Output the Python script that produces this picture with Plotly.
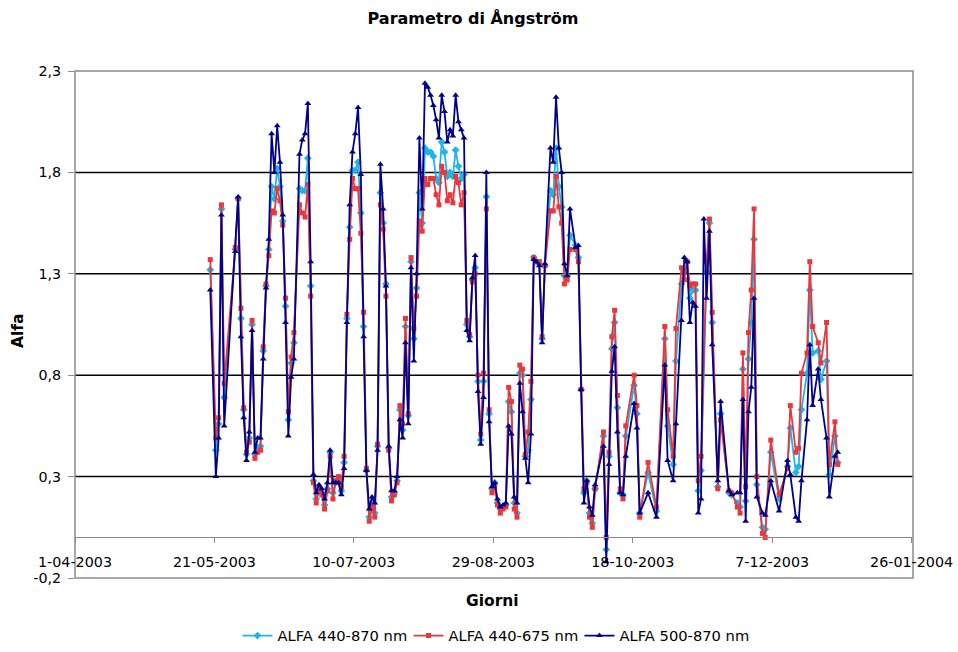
import pandas as pd
import plotly.graph_objects as go

# Measurement days (one value per day, three Ångström exponents)
DATES = [
    "2003-05-19", "2003-05-21", "2003-05-22", "2003-05-23", "2003-05-24",
    "2003-05-28", "2003-05-29", "2003-05-30", "2003-05-31", "2003-06-01",
    "2003-06-02", "2003-06-03", "2003-06-04", "2003-06-05", "2003-06-06",
    "2003-06-07", "2003-06-08", "2003-06-09", "2003-06-10", "2003-06-11",
    "2003-06-12", "2003-06-13", "2003-06-14", "2003-06-15", "2003-06-16",
    "2003-06-17", "2003-06-18", "2003-06-20", "2003-06-21", "2003-06-22",
    "2003-06-23", "2003-06-24", "2003-06-25", "2003-06-26", "2003-06-27",
    "2003-06-28", "2003-06-29", "2003-06-30", "2003-07-01", "2003-07-02",
    "2003-07-03", "2003-07-04", "2003-07-05", "2003-07-06", "2003-07-07",
    "2003-07-08", "2003-07-09", "2003-07-10", "2003-07-11", "2003-07-12",
    "2003-07-13", "2003-07-14", "2003-07-15", "2003-07-16", "2003-07-17",
    "2003-07-18", "2003-07-19", "2003-07-20", "2003-07-21", "2003-07-22",
    "2003-07-23", "2003-07-24", "2003-07-25", "2003-07-26", "2003-07-27",
    "2003-07-28", "2003-07-29", "2003-07-30", "2003-07-31", "2003-08-01",
    "2003-08-02", "2003-08-03", "2003-08-04", "2003-08-05", "2003-08-06",
    "2003-08-07", "2003-08-08", "2003-08-09", "2003-08-10", "2003-08-11",
    "2003-08-12", "2003-08-13", "2003-08-14", "2003-08-15", "2003-08-16",
    "2003-08-17", "2003-08-18", "2003-08-19", "2003-08-20", "2003-08-21",
    "2003-08-22", "2003-08-23", "2003-08-24", "2003-08-25", "2003-08-26",
    "2003-08-27", "2003-08-28", "2003-08-29", "2003-08-30", "2003-08-31",
    "2003-09-01", "2003-09-02", "2003-09-03", "2003-09-04", "2003-09-05",
    "2003-09-06", "2003-09-07", "2003-09-08", "2003-09-09", "2003-09-10",
    "2003-09-11", "2003-09-12", "2003-09-13", "2003-09-14", "2003-09-15",
    "2003-09-16", "2003-09-18", "2003-09-19", "2003-09-20", "2003-09-21",
    "2003-09-22", "2003-09-23", "2003-09-24", "2003-09-25", "2003-09-27",
    "2003-09-28", "2003-09-29", "2003-09-30", "2003-10-01", "2003-10-02",
    "2003-10-03", "2003-10-04", "2003-10-07", "2003-10-08", "2003-10-09",
    "2003-10-10", "2003-10-11", "2003-10-12", "2003-10-13", "2003-10-14",
    "2003-10-15", "2003-10-18", "2003-10-19", "2003-10-20", "2003-10-23",
    "2003-10-26", "2003-10-29", "2003-10-30", "2003-11-01", "2003-11-02",
    "2003-11-04", "2003-11-05", "2003-11-06", "2003-11-07", "2003-11-08",
    "2003-11-09", "2003-11-10", "2003-11-11", "2003-11-12", "2003-11-13",
    "2003-11-14", "2003-11-15", "2003-11-17", "2003-11-18", "2003-11-21",
    "2003-11-22", "2003-11-24", "2003-11-25", "2003-11-26", "2003-11-27",
    "2003-11-28", "2003-11-29", "2003-11-30", "2003-12-01", "2003-12-03",
    "2003-12-04", "2003-12-06", "2003-12-09", "2003-12-12", "2003-12-13",
    "2003-12-15", "2003-12-16", "2003-12-17", "2003-12-19", "2003-12-20",
    "2003-12-21", "2003-12-23", "2003-12-24", "2003-12-26", "2003-12-27",
    "2003-12-29", "2003-12-30",
]

ALFA_440_870 = [
    1.32, 0.43, 0.56, 1.62, 0.69, 1.42, 1.67, 1.08, 0.63, 0.41,
    0.49, 1.05, 0.41, 0.44, 0.45, 0.92, 1.24, 1.42, 1.73, 1.67,
    1.82, 1.73, 1.56, 1.14, 0.58, 0.86, 0.96, 1.72, 1.71, 1.71,
    1.87, 1.24, 0.28, 0.19, 0.24, 0.22, 0.16, 0.24, 0.42, 0.22,
    0.27, 0.28, 0.23, 0.37, 1.08, 1.53, 1.81, 1.81, 1.85, 1.60,
    1.04, 0.33, 0.10, 0.17, 0.12, 0.45, 1.70, 1.55, 1.25, 0.44,
    0.20, 0.22, 0.28, 0.63, 0.53, 1.04, 0.60, 1.36, 0.98, 1.23,
    1.70, 1.55, 1.92, 1.90, 1.90, 1.88, 1.77, 1.75, 1.95, 1.90,
    1.78, 1.80, 1.78, 1.91, 1.83, 1.77, 1.79, 1.05, 0.99, 1.27,
    1.33, 0.77, 0.48, 0.77, 1.68, 0.61, 0.24, 0.27, 0.17, 0.14,
    0.15, 0.16, 0.67, 0.62, 0.17, 0.12, 0.81, 0.80, 0.40, 0.43,
    0.68, 1.38, 1.36, 1.35, 0.98, 1.34, 1.71, 1.69, 1.92, 1.73,
    1.63, 1.29, 1.29, 1.49, 1.44, 1.38, 0.73, 0.22, 0.28, 0.12,
    0.07, 0.24, 0.50, -0.06, 0.40, 0.93, 1.06, 0.64, 0.22, 0.21,
    0.50, 0.75, 0.61, 0.12, 0.32, 0.13, 0.98, 0.55, 0.36, 0.87,
    1.25, 1.31, 1.36, 1.18, 1.22, 1.22, 0.23, 0.33, None, 1.31,
    1.55, 1.06, 0.25, 0.61, 0.22, 0.21, 0.17, 0.15, 0.83, 0.18,
    0.88, 1.06, 1.47, 0.26, 0.05, 0.04, 0.42, 0.19, 0.35, 0.54,
    0.32, 0.35, 0.63, 0.81, 1.22, 0.91, 0.92, 0.78, 0.87, 0.31,
    0.50, 0.37,
]

ALFA_440_675 = [
    1.37, 0.49, 0.59, 1.64, 0.76, 1.43, 1.67, 1.13, 0.64, 0.42,
    0.47, 1.07, 0.39, 0.42, 0.43, 0.94, 1.25, 1.39, 1.61, 1.60,
    1.72, 1.66, 1.54, 1.18, 0.62, 0.89, 1.01, 1.64, 1.60, 1.58,
    1.74, 1.19, 0.27, 0.17, 0.24, 0.21, 0.14, 0.23, 0.40, 0.19,
    0.28, 0.30, 0.25, 0.40, 1.10, 1.47, 1.77, 1.72, 1.72, 1.50,
    1.11, 0.34, 0.08, 0.15, 0.10, 0.46, 1.64, 1.52, 1.19, 0.43,
    0.18, 0.21, 0.27, 0.65, 0.56, 1.08, 0.61, 1.38, 1.03, 1.19,
    1.56, 1.51, 1.77, 1.74, 1.77, 1.77, 1.69, 1.64, 1.83, 1.80,
    1.66, 1.69, 1.65, 1.78, 1.75, 1.64, 1.70, 1.07, 1.00, 1.26,
    1.30, 0.80, 0.51, 0.81, 1.62, 0.63, 0.22, 0.25, 0.16, 0.12,
    0.14, 0.15, 0.74, 0.67, 0.14, 0.10, 0.85, 0.83, 0.41, 0.52,
    0.77, 1.38, 1.36, 1.36, 0.99, 1.34, 1.61, 1.61, 1.78, 1.63,
    1.55, 1.25, 1.27, 1.42, 1.42, 1.36, 0.73, 0.24, 0.27, 0.10,
    0.05, 0.24, 0.52, 0.00, 0.42, 0.99, 1.12, 0.70, 0.24, 0.19,
    0.55, 0.80, 0.65, 0.10, 0.37, 0.15, 1.04, 0.63, 0.40, 1.03,
    1.33, 1.27, 1.36, 1.24, 1.25, 1.25, 0.28, 0.40, None, 1.36,
    1.57, 1.11, 0.24, 0.58, 0.23, 0.22, 0.15, 0.12, 0.91, 0.25,
    1.01, 1.22, 1.62, 0.30, 0.02, 0.00, 0.48, 0.21, 0.34, 0.65,
    0.42, 0.44, 0.81, 0.91, 1.36, 1.04, 0.96, 0.86, 1.06, 0.36,
    0.57, 0.36,
]

ALFA_500_870 = [
    1.22, 0.30, 0.49, 1.59, 0.55, 1.41, 1.68, 0.99, 0.59, 0.38,
    0.52, 1.02, 0.42, 0.49, 0.49, 0.88, 1.23, 1.47, 1.99, 1.80,
    2.03, 1.85, 1.59, 1.06, 0.50, 0.79, 0.88, 1.89, 1.96, 1.99,
    2.14, 1.36, 0.31, 0.22, 0.26, 0.24, 0.19, 0.27, 0.43, 0.27,
    0.27, 0.27, 0.21, 0.34, 1.06, 1.64, 1.90, 1.99, 2.12, 1.79,
    0.99, 0.33, 0.14, 0.20, 0.17, 0.43, 1.84, 1.62, 1.24, 0.45,
    0.23, 0.23, 0.30, 0.58, 0.49, 0.96, 0.56, 1.33, 0.87, 1.30,
    1.97, 1.62, 2.24, 2.22, 2.18, 2.13, 2.06, 1.97, 2.18, 2.10,
    1.95, 2.01, 1.98, 2.18, 2.05, 2.01, 1.97, 1.02, 0.97, 1.28,
    1.39, 0.72, 0.46, 0.69, 1.80, 0.57, 0.25, 0.27, 0.19, 0.15,
    0.16, 0.17, 0.55, 0.51, 0.20, 0.17, 0.76, 0.62, 0.39, 0.27,
    0.51, 1.37, 1.36, 1.34, 0.96, 1.35, 1.92, 1.85, 2.17, 1.92,
    1.80, 1.35, 1.29, 1.62, 1.43, 1.44, 0.73, 0.17, 0.28, 0.15,
    0.11, 0.26, 0.45, -0.12, 0.36, 0.82, 0.94, 0.52, 0.22, 0.21,
    0.40, 0.66, 0.54, 0.12, 0.22, 0.10, 0.85, 0.38, 0.28, 0.56,
    1.07, 1.38, 1.36, 1.06, 1.16, 1.14, 0.12, 0.19, 1.57, 1.18,
    1.51, 0.95, 0.28, 0.67, 0.23, 0.21, 0.22, 0.22, 0.68, 0.08,
    0.62, 0.74, 1.18, 0.20, 0.12, 0.11, 0.28, 0.13, 0.38, 0.31,
    0.10, 0.08, 0.28, 0.58, 0.95, 0.65, 0.83, 0.68, 0.49, 0.20,
    0.40, 0.42,
]

SERIES_NAMES = ["ALFA 440-870 nm", "ALFA 440-675 nm", "ALFA 500-870 nm"]

Y_TICKS = [-0.2, 0.3, 0.8, 1.3, 1.8, 2.3]
Y_TICK_TEXT = ["-0,2", "0,3", "0,8", "1,3", "1,8", "2,3"]
X_TICKS = ["2003-04-01", "2003-05-21", "2003-07-10", "2003-08-29",
           "2003-10-18", "2003-12-07", "2004-01-26"]
X_TICK_TEXT = ["1-04-2003", "21-05-2003", "10-07-2003", "29-08-2003",
               "18-10-2003", "7-12-2003", "26-01-2004"]
X_RANGE = ["2003-04-01", "2004-01-26 12:00"]
Y_RANGE = [-0.2, 2.3]

FONT = "DejaVu Sans, Verdana, sans-serif"
GRID_COLOR = "#000000"
FRAME_COLOR = "#8c8c8c"

# each day is drawn in the middle of its one-day slot
x = pd.to_datetime(DATES) + pd.Timedelta(hours=12)

styles = [
    dict(color="#1fb5e8", symbol="diamond", size=6),
    dict(color="#e8383d", symbol="square", size=5),
    dict(color="#000088", symbol="triangle-up", size=6),
]

fig = go.Figure()
for name, values, st in zip(SERIES_NAMES, [ALFA_440_870, ALFA_440_675, ALFA_500_870], styles):
    fig.add_trace(go.Scatter(
        x=x, y=values, name=name, mode="lines+markers",
        connectgaps=True,
        line=dict(color=st["color"], width=1.8),
        marker=dict(color=st["color"], symbol=st["symbol"], size=st["size"],
                    line=dict(width=0)),
    ))

# horizontal grid lines at the inner tick values
shapes = []
for v in Y_TICKS[1:-1]:
    shapes.append(dict(type="line", xref="paper", x0=0, x1=1, yref="y", y0=v, y1=v,
                       line=dict(color=GRID_COLOR, width=1.5), layer="below"))
# plot-area frame
shapes.append(dict(type="rect", xref="paper", yref="paper", x0=0, x1=1, y0=0, y1=1,
                   line=dict(color=FRAME_COLOR, width=1.5), layer="below"))

zero_pos = (0 - Y_RANGE[0]) / (Y_RANGE[1] - Y_RANGE[0])

fig.update_layout(
    width=958, height=652,
    margin=dict(l=75, r=45, t=71, b=74, autoexpand=False),
    paper_bgcolor="white", plot_bgcolor="white",
    font=dict(family=FONT, size=14.3, color="black"),
    title=dict(text="<b>Parametro di Ångström</b>", x=473 / 958, xanchor="center",
               y=1 - 18 / 652, yanchor="middle", font=dict(size=16)),
    shapes=shapes,
    showlegend=True,
    legend=dict(orientation="h", x=494 / 958, xanchor="center", xref="container",
                y=1 - 636 / 652, yanchor="middle", yref="container",
                font=dict(size=14.7), itemwidth=30, entrywidth=126,
                bgcolor="rgba(0,0,0,0)"),
    annotations=[
        dict(text="<b>Alfa</b>", xref="paper", yref="paper", x=(18 - 75) / 838,
             y=(578 - 331) / 507, showarrow=False, textangle=-90,
             xanchor="center", yanchor="middle", font=dict(size=15.5)),
        dict(text="<b>Giorni</b>", xref="paper", yref="paper", x=(492 - 75) / 838,
             y=(578 - 601) / 507, showarrow=False, xanchor="center",
             yanchor="middle", font=dict(size=15.5)),
    ],
)

fig.update_xaxes(
    type="date", range=X_RANGE, tickvals=X_TICKS, ticktext=X_TICK_TEXT,
    anchor="free", position=zero_pos, automargin=False,
    showline=True, linecolor=FRAME_COLOR, linewidth=1,
    ticks="outside", ticklen=5, tickcolor=FRAME_COLOR, tickwidth=1,
    ticklabelstandoff=6,
    showgrid=False, zeroline=False,
)
fig.update_yaxes(
    range=Y_RANGE, tickvals=Y_TICKS, ticktext=Y_TICK_TEXT, automargin=False,
    ticks="outside", ticklen=6, tickcolor=FRAME_COLOR, tickwidth=1,
    ticklabelstandoff=4,
    showline=False, showgrid=False, zeroline=False,
)

fig.write_html("out.html")
